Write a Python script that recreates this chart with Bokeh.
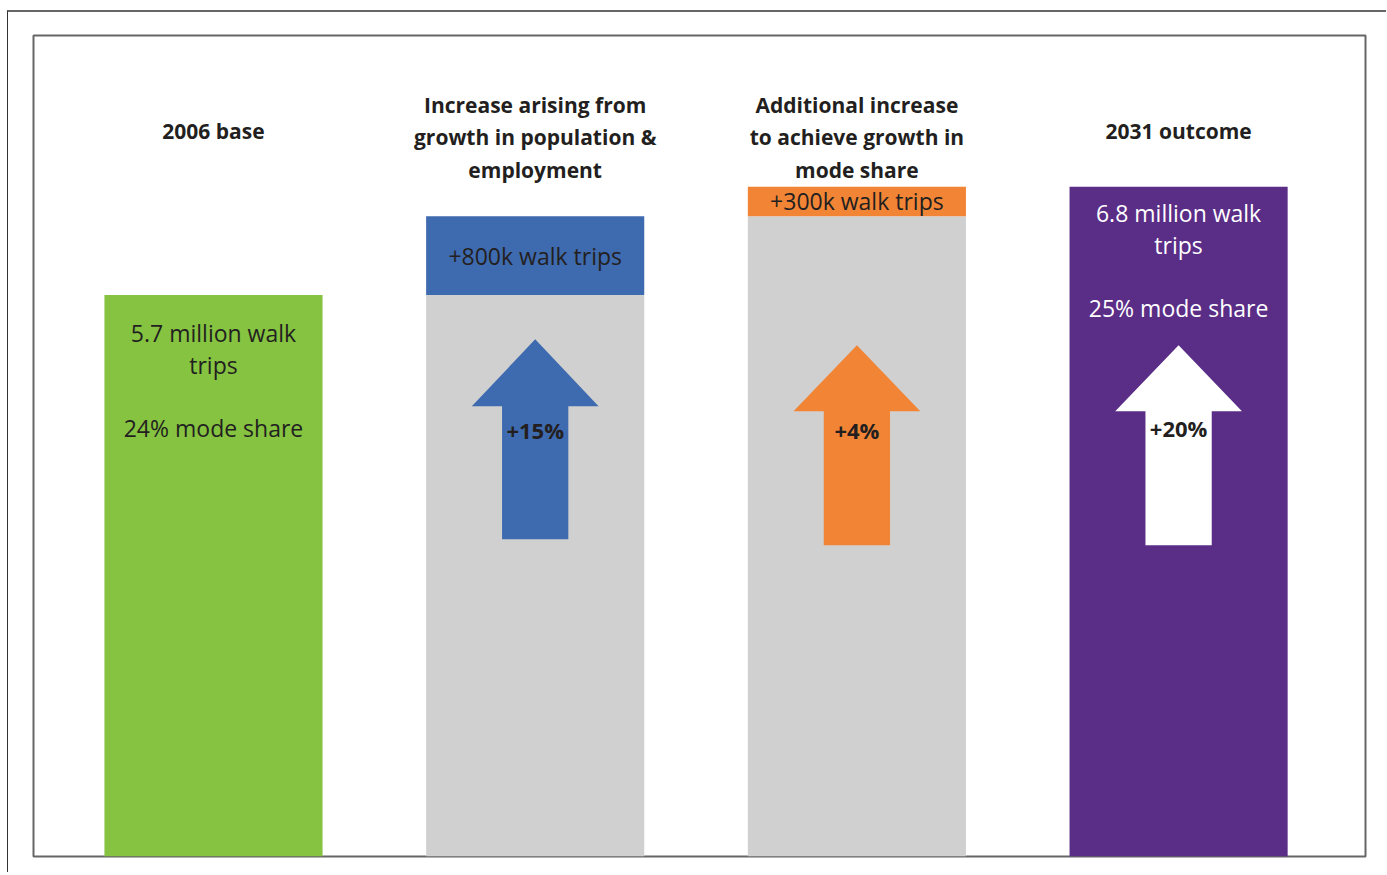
from bokeh.plotting import figure
from bokeh.models import ColumnDataSource, Range1d
from bokeh.core.properties import value
from bokeh.embed import file_html
from bokeh.resources import INLINE

# ---- data ----
stages = ["2006 base",
          "Increase arising from\ngrowth in population &\nemployment",
          "Additional increase\nto achieve growth in\nmode share",
          "2031 outcome"]
base_trips = 5.7          # million walk trips, 2006
pop_growth = 0.8          # +800k
mode_growth = 0.3         # +300k
outcome_trips = 6.8       # million walk trips, 2031
pct_labels = ["+15%", "+4%", "+20%"]
bar_texts = ["5.7 million walk\ntrips\n\n24% mode share",
             "+800k walk trips",
             "+300k walk trips",
             "6.8 million walk\ntrips\n\n25% mode share"]

# ---- style ----
GREEN = "#85c341"; GRAY = "#d0d0d0"; BLUE = "#3e6aaf"; ORANGE = "#f28535"; PURPLE = "#5a2d87"
DARK = "#231f20"
FONT = "Open Sans"
W = 0.678
xs = [1, 2, 3, 4]

p = figure(width=1379, height=862, output_backend="svg", toolbar_location=None,
           x_range=Range1d(0.4405, 4.581), y_range=Range1d(0, 8.335),
           min_border_left=25, min_border_top=23, min_border_right=22, min_border_bottom=18)
p.styles = {"margin-left": "7px", "margin-top": "10px",
            "border-left": "1px solid #333", "border-top": "2px solid #666"}
p.axis.visible = False
p.grid.visible = False
p.outline_line_color = "#666"
p.outline_line_width = 2
p.background_fill_color = "white"
p.border_fill_color = "white"

# bars
p.vbar(x=[1], top=[base_trips], bottom=0, width=W, fill_color=GREEN, line_color=None)
p.vbar(x=[2], top=[base_trips], bottom=0, width=W, fill_color=GRAY, line_color=None)
p.vbar(x=[2], top=[base_trips + pop_growth], bottom=base_trips, width=W, fill_color=BLUE, line_color=None)
p.vbar(x=[3], top=[base_trips + pop_growth], bottom=0, width=W, fill_color=GRAY, line_color=None)
p.vbar(x=[3], top=[base_trips + pop_growth + mode_growth], bottom=base_trips + pop_growth,
       width=W, fill_color=ORANGE, line_color=None)
p.vbar(x=[4], top=[outcome_trips], bottom=0, width=W, fill_color=PURPLE, line_color=None)

# arrows (decorative)
def arrow(xc, top, base, bottom, color):
    hw, sw = 0.197, 0.103
    return ([xc, xc + hw, xc + sw, xc + sw, xc - sw, xc - sw, xc - hw],
            [top, base, base, bottom, bottom, base, base], color)

arrows = [arrow(2, 5.25, 4.57, 3.22, BLUE),
          arrow(3, 5.19, 4.52, 3.16, ORANGE),
          arrow(4, 5.19, 4.52, 3.16, "white")]
p.patches(xs=[a[0] for a in arrows], ys=[a[1] for a in arrows],
          fill_color=[a[2] for a in arrows], line_color=None)

p.text(x=[2, 3, 4], y=[4.33, 4.33, 4.35], text=pct_labels, text_font=value(FONT),
       text_font_size="22px", text_font_style="bold", text_color=DARK,
       text_align="center", text_baseline="middle")

# headers
p.text(x=xs, y=[7.37, 7.30, 7.30, 7.37], text=stages, text_font=value(FONT),
       text_font_size="21px", text_font_style="bold", text_color=DARK,
       text_align="center", text_baseline="middle", text_line_height=1.17)

# bar labels
p.text(x=xs, y=[4.83, base_trips + pop_growth / 2, base_trips + pop_growth + mode_growth / 2, 6.05],
       text=bar_texts, text_font=value(FONT), text_font_size="23px",
       text_color=[DARK, DARK, DARK, "white"],
       text_align="center", text_baseline="middle", text_line_height=0.99)

open("out.html", "w").write(file_html(p, INLINE))
